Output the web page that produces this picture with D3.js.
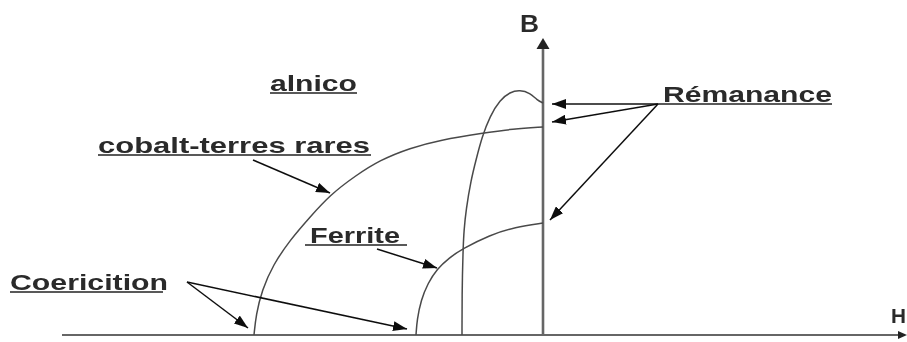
<!DOCTYPE html>
<html>
<head>
<meta charset="utf-8">
<script src="https://cdn.jsdelivr.net/npm/d3@7"></script>
<style>
  html, body { margin: 0; padding: 0; background: #fff; }
  svg { display: block; }
</style>
</head>
<body>
<svg id="chart" width="907" height="342"></svg>
<script>
// Demagnetisation curves (second quadrant of B(H)) for three magnet families.
// H in arbitrary units (negative = coercive side), B in arbitrary units.
const cobaltH = [-2.89, -2.87, -2.81, -2.70, -2.53, -2.33, -2.13, -1.88, -1.63, -1.33, -1.03, -0.60, -0.30, 0];
const cobaltB = [0, 0.20, 0.45, 0.70, 0.95, 1.18, 1.40, 1.59, 1.75, 1.87, 1.95, 2.02, 2.06, 2.08];

const ferriteH = [-1.27, -1.26, -1.22, -1.15, -1.06, -0.94, -0.81, -0.53, -0.28, 0];
const ferriteB = [0, 0.15, 0.35, 0.52, 0.66, 0.77, 0.86, 1.00, 1.08, 1.12];

const alnicoH = [-0.81, -0.81, -0.80, -0.79, -0.77, -0.72, -0.67, -0.61, -0.53, -0.43, -0.33, -0.23, -0.13, -0.06, 0];
const alnicoB = [0, 0.40, 0.85, 1.05, 1.25, 1.55, 1.75, 1.98, 2.19, 2.35, 2.43, 2.45, 2.42, 2.35, 2.32];

const labels = ["alnico", "cobalt-terres rares", "Ferrite", "Coericition", "Rémanance"];
const axisLabels = ["H", "B"];

const svg = d3.select("#chart");

const x = d3.scaleLinear().domain([-4.81, 3.64]).range([62, 907]);
const y = d3.scaleLinear().domain([0, 3.35]).range([335, 0]);

const defs = svg.append("defs");
defs.append("filter").attr("id", "soft")
  .append("feGaussianBlur").attr("stdDeviation", 0.45);
defs.append("marker")
  .attr("id", "head").attr("markerUnits", "userSpaceOnUse")
  .attr("viewBox", "0 0 14 10").attr("refX", 14).attr("refY", 5)
  .attr("markerWidth", 14).attr("markerHeight", 10).attr("orient", "auto")
  .append("path").attr("d", "M0,0 L14,5 L0,10 Z").attr("fill", "#111");

const g = svg.append("g").attr("filter", "url(#soft)");

// axes
g.append("line")
  .attr("x1", x(-4.81)).attr("x2", x(3.60)).attr("y1", y(0)).attr("y2", y(0))
  .attr("stroke", "#666").attr("stroke-width", 2.2);
g.append("path")
  .attr("d", `M${x(3.64)},${y(0)} l-9,-4 l0,8 Z`).attr("fill", "#222");
g.append("line")
  .attr("x1", x(0)).attr("x2", x(0)).attr("y1", y(0)).attr("y2", y(2.86))
  .attr("stroke", "#666").attr("stroke-width", 2.6);
g.append("path")
  .attr("d", `M${x(0)},${y(2.97)} l-6.5,11 l13,0 Z`).attr("fill", "#222");

// curves
const line = d3.line().x(d => x(d[0])).y(d => y(d[1])).curve(d3.curveBasis);
const series = [
  d3.zip(cobaltH, cobaltB),
  d3.zip(ferriteH, ferriteB),
  d3.zip(alnicoH, alnicoB)
];
g.selectAll("path.curve").data(series).join("path")
  .attr("class", "curve")
  .attr("d", line)
  .attr("fill", "none").attr("stroke", "#4a4a4a").attr("stroke-width", 1.5);

// text labels: [text, H, B, width, underline start, underline end]
const textLayout = [
  [labels[0], -2.73, 2.44, 87, -2.73, -1.86],
  [labels[1], -4.45, 1.82, 272, -4.45, -1.72],
  [labels[2], -2.33, 0.92, 90, -2.38, -1.36],
  [labels[3], -5.33, 0.45, 158, -5.33, -3.80],
  [labels[4], 1.20, 2.33, 169, 1.15, 2.89]
];
const tg = g.append("g")
  .attr("font-family", "'Liberation Sans', Arial, sans-serif")
  .attr("font-weight", "bold").attr("fill", "#2b2b2b");
textLayout.forEach(([t, hx, by, w, u0, u1]) => {
  tg.append("text")
    .attr("x", x(hx)).attr("y", y(by))
    .attr("font-size", 22)
    .attr("textLength", w).attr("lengthAdjust", "spacingAndGlyphs")
    .text(t);
  g.append("line")
    .attr("x1", x(u0)).attr("x2", x(u1))
    .attr("y1", y(by) + 2).attr("y2", y(by) + 2)
    .attr("stroke", "#222").attr("stroke-width", 1.5);
});
tg.append("text").attr("x", x(-0.23)).attr("y", y(3.03))
  .attr("font-size", 23).attr("textLength", 19).attr("lengthAdjust", "spacingAndGlyphs")
  .text(axisLabels[1]);
tg.append("text").attr("x", x(3.48)).attr("y", y(0.12))
  .attr("font-size", 21).attr("textLength", 15).attr("lengthAdjust", "spacingAndGlyphs")
  .text(axisLabels[0]);

// arrows: [from H, from B, to H, to B]
const arrows = [
  [1.15, 2.31, 0.09, 2.31],
  [1.15, 2.31, 0.09, 2.13],
  [1.15, 2.31, 0.07, 1.15],
  [-2.90, 1.75, -2.13, 1.42],
  [-1.66, 0.86, -1.06, 0.67],
  [-3.56, 0.53, -2.95, 0.07],
  [-3.56, 0.53, -1.36, 0.06]
];
g.selectAll("line.arrow").data(arrows).join("line")
  .attr("class", "arrow")
  .attr("x1", d => x(d[0])).attr("y1", d => y(d[1]))
  .attr("x2", d => x(d[2])).attr("y2", d => y(d[3]))
  .attr("stroke", "#111").attr("stroke-width", 1.5)
  .attr("marker-end", "url(#head)");
</script>
</body>
</html>
